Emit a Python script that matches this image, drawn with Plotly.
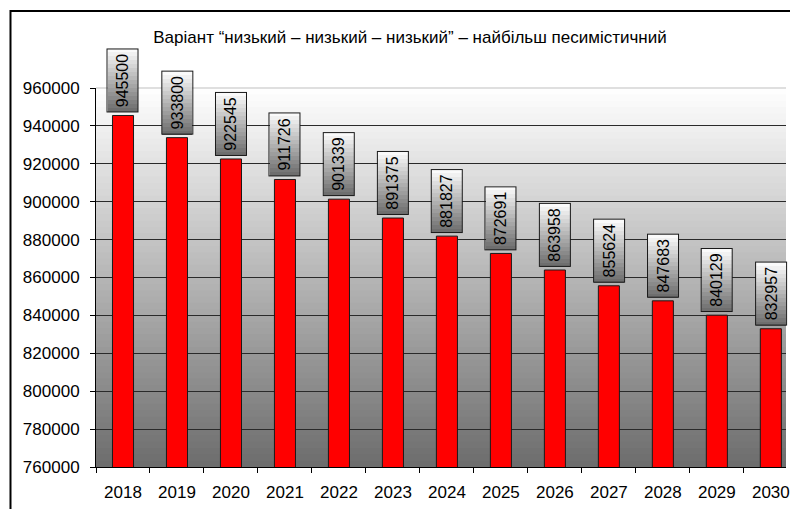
import plotly.graph_objects as go

# population forecast, "low-low-low" scenario
years = ['2018', '2019', '2020', '2021', '2022', '2023', '2024',
         '2025', '2026', '2027', '2028', '2029', '2030']
population = [945500, 933800, 922545, 911726, 901339, 891375, 881827,
              872691, 863958, 855624, 847683, 840129, 832957]
y_ticks = list(range(760000, 960001, 20000))

title_text = 'Варіант “низький – низький – низький” – найбільш песимістичний'

# page body adds an 8px margin, so the figure is laid out smaller to fit
W, H = 782, 501
ML, MR, MT, MB = 88, 0, 80, 42
plot_w = W - ML - MR
plot_h = H - MT - MB
cat_px = 54.3


def grey(t, dark=110):
    # t=0 -> dark grey, t=1 -> white
    v = int(round(dark + (255 - dark) * t))
    return f'rgb({v},{v},{v})'


fig = go.Figure()

fig.add_trace(go.Bar(
    x=years,
    y=population,
    width=0.39,
    marker=dict(color='#ff0000', line=dict(color='#1a1a1a', width=1)),
    hoverinfo='x+y',
))

# plot area gradient (white at top, grey at bottom)
shapes = []
n_bands = 60
for k in range(n_bands):
    shapes.append(dict(
        type='rect', xref='paper', yref='paper', layer='below',
        x0=0, x1=1, y0=k / n_bands, y1=(k + 1) / n_bands + 0.002,
        fillcolor=grey((k + 0.5) / n_bands, dark=108), line=dict(width=0),
    ))
# light top edge of the plot area
shapes.append(dict(
    type='line', xref='paper', yref='paper', layer='above',
    x0=0, x1=1, y0=1, y1=1, line=dict(color='#d4d4d4', width=1.5),
))
# outer frame of the chart
shapes.append(dict(
    type='rect', xref='paper', yref='paper', layer='above',
    x0=(2 - ML) / plot_w, x1=1.05, y0=-0.3, y1=(plot_h + MT - 3) / plot_h,
    line=dict(color='black', width=2), fillcolor='rgba(0,0,0,0)',
))

# value labels: gradient box + rotated text
annotations = []
box_w, box_h, gap = 32, 64, 3
n_steps = 16
step = box_h // n_steps
for i, val in enumerate(population):
    for k in range(n_steps):
        annotations.append(dict(
            x=i, y=val, xref='x', yref='y', text=' ', showarrow=False,
            xanchor='center', yanchor='bottom',
            yshift=gap + step * k,
            width=box_w - 2, height=step,
            bgcolor=grey((k + 0.5) / n_steps, dark=105),
            borderwidth=0, borderpad=0, font=dict(size=1),
        ))
    annotations.append(dict(
        x=i, y=val, xref='x', yref='y', text=str(val), showarrow=False,
        xanchor='center', yanchor='middle', textangle=-90,
        yshift=gap + box_h / 2,
        width=box_h - 2, height=box_w - 2,
        bgcolor='rgba(0,0,0,0)', bordercolor='#1a1a1a',
        borderwidth=1, borderpad=0,
        font=dict(size=16, color='black', family='Liberation Sans, Arial'),
    ))

fig.update_layout(
    width=W, height=H,
    margin=dict(l=ML, r=MR, t=MT, b=MB),
    paper_bgcolor='white',
    plot_bgcolor='rgba(0,0,0,0)',
    font=dict(family='Liberation Sans, Arial', size=17, color='black'),
    title=dict(text=title_text, x=402 / W, xanchor='center',
               y=1 - 29 / H, yanchor='middle',
               font=dict(size=17, color='black')),
    showlegend=False,
    bargap=0.6,
    shapes=shapes,
    annotations=annotations,
    xaxis=dict(
        type='category', range=[-0.5, -0.5 + plot_w / cat_px],
        showgrid=False, showline=True, linecolor='black', linewidth=1,
        ticks='outside', tickson='boundaries', ticklen=5,
        tickcolor='black', ticklabelstandoff=10,
    ),
    yaxis=dict(
        range=[760000, 960000], tickvals=y_ticks, tickformat='d',
        showgrid=True, gridcolor='#2a2a2a', gridwidth=1,
        showline=True, linecolor='black', linewidth=1,
        ticks='outside', ticklen=5, tickcolor='black',
        ticklabelstandoff=7, zeroline=False,
    ),
)

fig.write_html("out.html")
